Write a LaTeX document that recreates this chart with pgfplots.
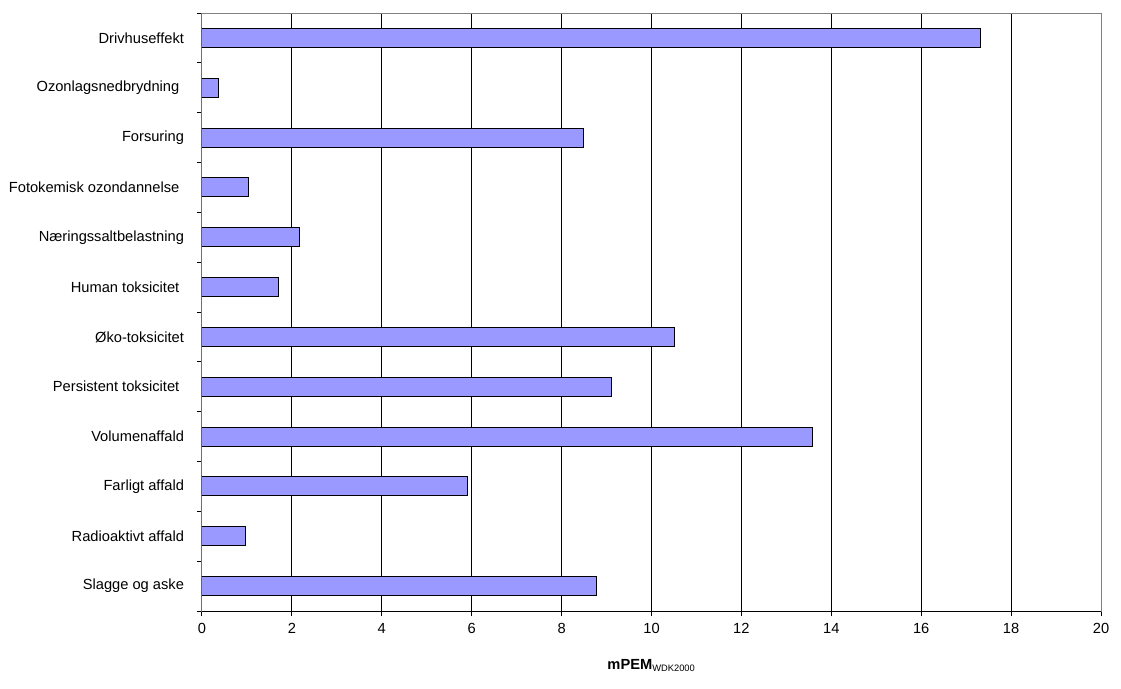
\documentclass[border=0pt]{standalone}
\usepackage{pgfplots}
\pgfplotsset{compat=1.18}
\usepackage{fontspec}
\setmainfont{Liberation Sans}
\definecolor{barblue}{RGB}{153,153,255}
\definecolor{framegray}{RGB}{128,128,128}

\begin{document}
\begin{tikzpicture}
\begin{axis}[
    xbar,
    scale only axis,
    width=674.25pt,
    height=448.5pt,
    xmin=0, xmax=20,
    ymin=-0.5, ymax=11.5,
    y dir=reverse,
    xtick={0,2,...,20},
    ytick={-0.5,0.5,...,11.5},
    yticklabels={},
    extra y ticks={0,1,2,3,4,5,6,7,8,9,10,11},
    extra y tick labels={
        Drivhuseffekt,
        Ozonlagsnedbrydning\kern3.5pt,
        Forsuring,
        Fotokemisk ozondannelse\kern3.5pt,
        Næringssaltbelastning,
        Human toksicitet\kern3.5pt,
        Øko-toksicitet,
        Persistent toksicitet\kern3.5pt,
        Volumenaffald,
        Farligt affald,
        Radioaktivt affald,
        Slagge og aske
    },
    extra y tick style={major tick length=0pt,
        yticklabel style={xshift=-10pt}},
    tick align=outside,
    tick pos=left,
    major tick length=3.75pt,
    xmajorgrids,
    grid style={black, line width=0.75pt},
    axis line style={framegray, line width=0.75pt},
    tick style={black, line width=0.75pt},
    bar width=14.25pt,
    font=\fontsize{11}{13}\selectfont,
    /pgf/number format/assume math mode=true,
    xticklabel style={yshift=-2pt},
    xlabel={\textbf{mPEM}\textsubscript{\fontsize{7}{8}\selectfont WDK2000}},
    xlabel style={yshift=-12pt},
]
\addplot[fill=barblue, draw=black, line width=0.75pt] coordinates {
    (17.33,0)
    (0.36,1)
    (8.48,2)
    (1.03,3)
    (2.17,4)
    (1.70,5)
    (10.51,6)
    (9.11,7)
    (13.58,8)
    (5.90,9)
    (0.96,10)
    (8.78,11)
};
\draw[black, line width=0.75pt] (axis description cs:0,1) -- (axis description cs:0,0) -- (axis description cs:1,0);
\coordinate (ll) at (axis description cs:0,0);
\coordinate (ur) at (axis description cs:1,1);
\end{axis}
\pgfresetboundingbox
\path ([shift={(-151.5pt,-58.5pt)}]ll) rectangle ([shift={(15pt,9.75pt)}]ur);
\end{tikzpicture}
\end{document}
